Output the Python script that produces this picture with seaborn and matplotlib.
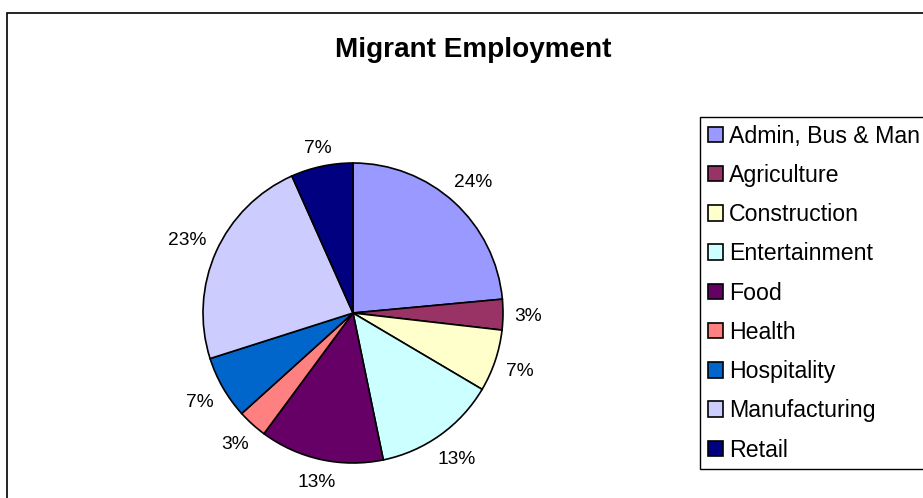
import numpy as np
import seaborn as sns
import matplotlib.pyplot as plt
from matplotlib.patches import Rectangle

# datos (porcentaje aproximado de cada sector)
sectores = ["Admin, Bus & Man", "Agriculture", "Construction", "Entertainment",
            "Food", "Health", "Hospitality", "Manufacturing", "Retail"]
porcentajes = [23.6, 3.3, 6.7, 13.3, 13.4, 3.2, 6.8, 23.3, 6.7]
colores = ["#9999FF", "#993366", "#FFFFCC", "#CCFFFF", "#660066",
           "#FF8080", "#0066CC", "#CCCCFF", "#000080"]

sns.set_theme(style="white")
plt.rcParams['font.family'] = ['Liberation Sans', 'DejaVu Sans']
plt.rcParams['text.color'] = 'black'

W, H = 923, 498
fig = plt.figure(figsize=(W / 100, H / 100), dpi=100)

# pie: centro (353, 313) px, radio 150 px
R = 150
cx, cy = 353, 313
lim = 1.35
ax = fig.add_axes([(cx - R * lim) / W, (H - cy - R * lim) / H,
                   2 * R * lim / W, 2 * R * lim / H])

wedges, _, autotexts = ax.pie(porcentajes, colors=sns.color_palette(colores),
                              startangle=90, counterclock=False,
                              autopct='%.0f%%', pctdistance=1.18,
                              wedgeprops=dict(edgecolor='black', linewidth=1.2),
                              textprops=dict(fontsize=13.8, color='black'))
ax.set_xlim(-lim, lim)
ax.set_ylim(-lim, lim)

# etiquetas fuera del pie, estilo Excel
fig.canvas.draw()
renderer = fig.canvas.get_renderer()
gap = 11 / R
for w, t in zip(wedges, autotexts):
    ang = np.deg2rad((w.theta1 + w.theta2) / 2)
    bb = t.get_window_extent(renderer)
    hw = bb.width / 2 / R
    hh = 0.36 * 13.8 * 100 / 72 / R
    r = 1 + gap + hw * abs(np.cos(ang)) + hh * abs(np.sin(ang))
    t.set_position((r * np.cos(ang), r * np.sin(ang)))
    t.set_ha('center')
    t.set_va('center_baseline')

fig.text(473 / W, 1 - 57 / H, "Migrant Employment", ha='center', va='baseline',
         fontsize=20.1, fontweight='bold', color='black')

leg = fig.legend(wedges, sectores, loc='upper left',
                 bbox_to_anchor=(700 / W, 1 - 117 / H), bbox_transform=fig.transFigure,
                 frameon=True, fancybox=False, edgecolor='black', framealpha=1,
                 fontsize=16.7, handlelength=0.65, handleheight=0.65,
                 handletextpad=0.27, labelspacing=0.7, borderpad=0.33,
                 borderaxespad=0, labelcolor='black')
leg.get_frame().set_linewidth(1.0)

# borde del area del grafico
fig.add_artist(Rectangle((7.5 / W, -0.1), 1.2, 1 - 13 / H + 0.1,
                         transform=fig.transFigure, fill=False,
                         edgecolor='black', linewidth=1.2))

fig.savefig("out.png", dpi=100)
